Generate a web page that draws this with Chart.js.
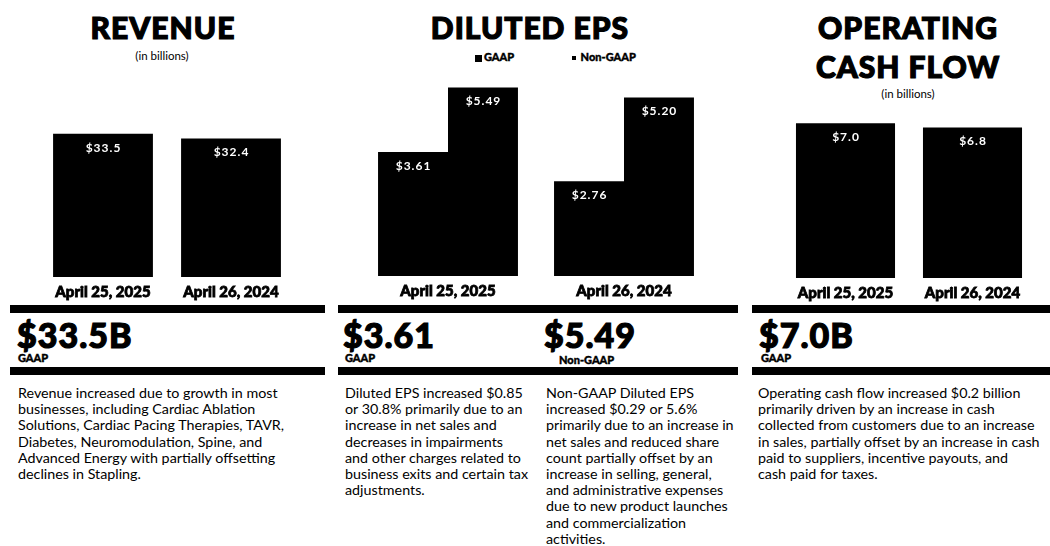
<!DOCTYPE html>
<html>
<head>
<meta charset="utf-8">
<script src="https://cdn.jsdelivr.net/npm/chart.js@4.4.0/dist/chart.umd.min.js"></script>
<style>
  html, body { margin: 0; padding: 0; background: #fff; }
  #page { position: relative; width: 1050px; height: 546px; overflow: hidden; font-family: Lato, sans-serif; color: #000; }
  .abs { position: absolute; white-space: nowrap; }
  .title { font-weight: 900; font-size: 30px; line-height: 30px; letter-spacing: 1px; text-align: center; -webkit-text-stroke: 1.2px #000; }
  .sub { font-size: 11.5px; line-height: 12px; text-align: center; }
  .rule { position: absolute; height: 8px; background: #000; }
  .big { font-weight: 900; font-size: 34px; line-height: 34px; letter-spacing: 1px; -webkit-text-stroke: 1.2px #000; }
  .tag { font-weight: 900; font-size: 11px; line-height: 11px; -webkit-text-stroke: 0.4px #000; }
  .body { font-size: 14.3px; line-height: 16.2px; white-space: pre; }
  .sq { display: inline-block; background: #000; vertical-align: middle; margin-right: 2px; }
  canvas { position: absolute; }
</style>
</head>
<body>
<div id="page">
  <!-- headers -->
  <div class="abs title" style="left:13px; width:300px; top:12px;">REVENUE</div>
  <div class="abs sub" style="left:62px; width:200px; top:50px;">(in billions)</div>

  <div class="abs title" style="left:380px; width:300px; top:12px;">DILUTED EPS</div>
  <div class="abs tag" style="left:475px; top:51px;"><span class="sq" style="width:7px;height:7px;"></span>GAAP</div>
  <div class="abs tag" style="left:572px; top:51px;"><span class="sq" style="width:4px;height:4px;"></span> Non-GAAP</div>

  <div class="abs title" style="left:758px; width:300px; top:12px;">OPERATING</div>
  <div class="abs title" style="left:758px; width:300px; top:51px;">CASH FLOW</div>
  <div class="abs sub" style="left:808px; width:200px; top:88px;">(in billions)</div>

  <canvas id="revChart" width="256" height="201" style="left:39px; top:106px;"></canvas>
  <canvas id="epsChart" width="352" height="236" style="left:360px; top:70px;"></canvas>
  <canvas id="cashChart" width="254" height="207" style="left:782px; top:101px;"></canvas>

  <!-- rules -->
  <div class="rule" style="left:10px; width:315px; top:305px;"></div>
  <div class="rule" style="left:338px; width:400px; top:305px;"></div>
  <div class="rule" style="left:752px; width:298px; top:305px;"></div>
  <div class="rule" style="left:10px; width:315px; top:367px;"></div>
  <div class="rule" style="left:338px; width:400px; top:367px;"></div>
  <div class="rule" style="left:752px; width:298px; top:367px;"></div>

  <!-- headline figures -->
  <div class="abs big" style="left:17px; top:318px;">$33.5B</div>
  <div class="abs tag" style="left:18px; top:352px;">GAAP</div>
  <div class="abs big" style="left:343px; top:318px;">$3.61</div>
  <div class="abs tag" style="left:345px; top:352px;">GAAP</div>
  <div class="abs big" style="left:544px; top:318px;">$5.49</div>
  <div class="abs tag" style="left:559px; top:354px;">Non-GAAP</div>
  <div class="abs big" style="left:759px; top:318px;">$7.0B</div>
  <div class="abs tag" style="left:761px; top:352px;">GAAP</div>

  <!-- commentary -->
  <div class="abs body" style="left:18px; top:385px;">Revenue increased due to growth in most
businesses, including Cardiac Ablation
Solutions, Cardiac Pacing Therapies, TAVR,
Diabetes, Neuromodulation, Spine, and
Advanced Energy with partially offsetting
declines in Stapling.</div>
  <div class="abs body" style="left:345px; top:385px;">Diluted EPS increased $0.85
or 30.8% primarily due to an
increase in net sales and
decreases in impairments
and other charges related to
business exits and certain tax
adjustments.</div>
  <div class="abs body" style="left:546px; top:385px;">Non-GAAP Diluted EPS
increased $0.29 or 5.6%
primarily due to an increase in
net sales and reduced share
count partially offset by an
increase in selling, general,
and administrative expenses
due to new product launches
and commercialization
activities.</div>
  <div class="abs body" style="left:758px; top:385px;">Operating cash flow increased $0.2 billion
primarily driven by an increase in cash
collected from customers due to an increase
in sales, partially offset by an increase in cash
paid to suppliers, incentive payouts, and
cash paid for taxes.</div>
</div>

<script>
// values
const periods = ['April 25, 2025', 'April 26, 2024'];
const revenue = [33.5, 32.4];
const epsGaap = [3.61, 2.76];
const epsNonGaap = [5.49, 5.20];
const cashFlow = [7.0, 6.8];

// white "$x.x" labels just inside the top of each bar
const valueLabels = {
  id: 'valueLabels',
  afterDatasetsDraw(chart, args, opts) {
    const ctx = chart.ctx;
    ctx.save();
    ctx.fillStyle = '#fff';
    ctx.font = '700 12px Lato';
    ctx.letterSpacing = '1px';
    ctx.textAlign = 'center';
    ctx.textBaseline = 'middle';
    chart.data.datasets.forEach((ds, i) => {
      chart.getDatasetMeta(i).data.forEach((bar, j) => {
        ctx.fillText('$' + ds.data[j].toFixed(opts.decimals), bar.x + 0.5, bar.y + 14);
      });
    });
    ctx.restore();
  }
};

function barChart(id, datasets, yMax, catPct, barPct, decimals) {
  return new Chart(document.getElementById(id), {
    type: 'bar',
    data: {
      labels: periods,
      datasets: datasets.map(d => ({
        label: d.label,
        data: d.data,
        backgroundColor: '#000',
        borderWidth: 0,
        categoryPercentage: catPct,
        barPercentage: barPct
      }))
    },
    options: {
      responsive: false,
      animation: false,
      layout: { padding: 0 },
      plugins: {
        legend: { display: false },
        tooltip: { enabled: false },
        valueLabels: { decimals: decimals }
      },
      scales: {
        x: {
          grid: { display: false, drawTicks: false },
          border: { display: false },
          ticks: {
            color: '#000', padding: 6,
            textStrokeColor: '#000', textStrokeWidth: 0.8,
            font: { family: 'Lato', weight: 900, size: 15 }
          }
        },
        y: { display: false, min: 0, max: yMax }
      }
    },
    plugins: [valueLabels]
  });
}

barChart('revChart', [{ label: 'Revenue', data: revenue }], 40, 1, 0.78, 1);
barChart('epsChart', [
  { label: 'GAAP', data: epsGaap },
  { label: 'Non-GAAP', data: epsNonGaap }
], 6, 0.795, 1, 2);
barChart('cashChart', [{ label: 'Operating Cash Flow', data: cashFlow }], 8, 1, 0.78, 1);
</script>
</body>
</html>
